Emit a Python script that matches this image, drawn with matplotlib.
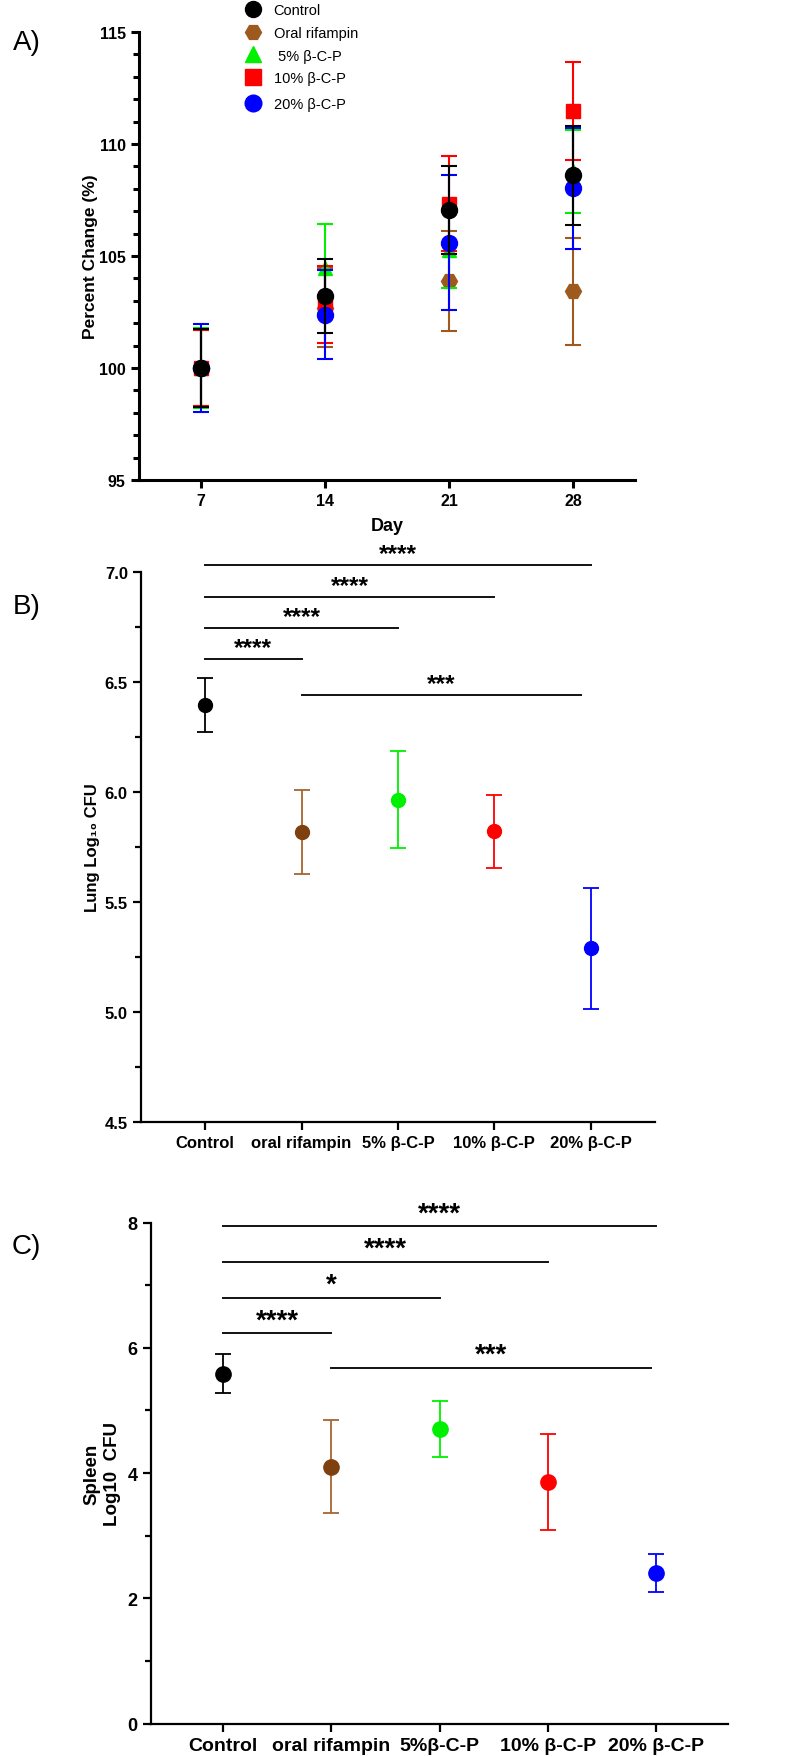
import numpy as np
import matplotlib
matplotlib.use("Agg")
import matplotlib.pyplot as plt
from matplotlib.lines import Line2D
from matplotlib.ticker import MultipleLocator, FormatStrFormatter

plt.rcParams['font.family'] = ['Liberation Sans', 'DejaVu Sans']

# ---- panel A: weight change over time ----
days = [7, 14, 21, 28]
a_labels = ['Control', 'Oral rifampin', ' 5% β-C-P', '10% β-C-P', '20% β-C-P']
control_mean = [100.0, 103.2, 107.05, 108.6]
control_sd = [1.75, 1.65, 1.95, 2.2]
rif_mean = [100.0, 102.7, 103.87, 103.42]
rif_sd = [1.7, 1.75, 2.23, 2.38]
p5_mean = [100.0, 104.45, 105.28, 108.78]
p5_sd = [1.8, 2.0, 1.7, 1.86]
p10_mean = [100.0, 102.85, 107.33, 111.46]
p10_sd = [1.7, 1.72, 2.12, 2.19]
p20_mean = [100.0, 102.38, 105.6, 108.02]
p20_sd = [1.95, 1.98, 3.0, 2.69]

# ---- panel B: lung CFU ----
b_groups = ['Control', 'oral rifampin', '5% β-C-P', '10% β-C-P', '20% β-C-P']
lung_mean = [6.3975, 5.8185, 5.965, 5.821, 5.29]
lung_sd = [0.1225, 0.1925, 0.221, 0.165, 0.275]
lung_sig = [(0, 4, 7.03, '****'), (0, 3, 6.888, '****'), (0, 2, 6.747, '****'),
            (0, 1, 6.606, '****'), (1, 3.9, 6.439, '***')]

# ---- panel C: spleen CFU ----
c_groups = ['Control', 'oral rifampin', '5%β-C-P', '10% β-C-P', '20% β-C-P']
spleen_mean = [5.5875, 4.105, 4.70, 3.86, 2.405]
spleen_sd = [0.3075, 0.75, 0.446, 0.7645, 0.30]
spleen_sig = [(0, 4, 7.94, '****'), (0, 3, 7.37, '****'), (0, 2, 6.80, '*'),
              (0, 1, 6.23, '****'), (1, 3.95, 5.68, '***')]

brown = '#9E5A1E'
brown_dark = '#7E400E'
brown_err = '#A8652F'
green = '#00F000'
group_colors = ['black', brown_dark, green, 'red', 'blue']
err_colors = ['black', brown_err, green, 'red', 'blue']

fig = plt.figure(figsize=(7.9, 17.58), dpi=100)


def style_axes(ax, lw):
    for s in ['top', 'right']:
        ax.spines[s].set_visible(False)
    for s in ['left', 'bottom']:
        ax.spines[s].set_linewidth(lw)
    ax.tick_params(which='major', length=6, width=lw, direction='out')
    ax.tick_params(which='minor', length=4, width=lw, direction='out')


# ---------------- A ----------------
axA = fig.add_axes([139/790, 1-481/1758, 496/790, 448/1758])
series = [
    (rif_mean, rif_sd, brown, 'H', 11.5),
    (p5_mean, p5_sd, green, '^', 10.5),
    (p10_mean, p10_sd, 'red', 's', 10.5),
    (p20_mean, p20_sd, 'blue', 'o', 11.5),
    (control_mean, control_sd, 'black', 'o', 11.5),
]
for i, (m, sd, c, mk, ms) in enumerate(series):
    axA.errorbar(days, m, yerr=sd, fmt=mk, color=c, ecolor=c, ms=ms,
                 elinewidth=1.5, capsize=6, capthick=1.5, zorder=3+i)
axA.set_xlim(3.5, 31.5)
axA.set_ylim(95, 115)
axA.set_xticks(days)
axA.yaxis.set_major_locator(MultipleLocator(5))
axA.yaxis.set_minor_locator(MultipleLocator(1))
style_axes(axA, 2.2)
axA.tick_params(axis='x', which='minor', bottom=False)
for t in axA.get_xticklabels() + axA.get_yticklabels():
    t.set_fontweight('bold')
    t.set_fontsize(11.5)
axA.set_xlabel('Day', fontsize=13, fontweight='bold', labelpad=6)
fig.text(90/790, 1-257/1758, 'Percent Change (%)', rotation=90, ha='center',
         va='center', fontsize=12.5, fontweight='bold')

handles = [
    Line2D([], [], ls='none', marker='o', color='black', ms=11.5),
    Line2D([], [], ls='none', marker='H', color=brown, ms=11.5),
    Line2D([], [], ls='none', marker='^', color=green, ms=11.5),
    Line2D([], [], ls='none', marker='s', color='red', ms=11),
    Line2D([], [], ls='none', marker='o', color='blue', ms=12),
]
leg_kw = dict(loc='upper left', frameon=False, fontsize=10.5, handlelength=1.0,
              handletextpad=0.9, labelspacing=0.6, borderpad=0.0, borderaxespad=0.0)
fig.legend(handles[:4], a_labels[:4], bbox_to_anchor=(246/790, 1-4/1758), **leg_kw)
fig.legend(handles[4:], a_labels[4:], bbox_to_anchor=(246/790, 1-98/1758), **leg_kw)
fig.text(13/790, 1-43/1758, 'A)', fontsize=20, ha='left', va='center')


def cfu_panel(ax, groups, mean, sd, sig, ms, star_fs, lbl_fs, lw):
    x = np.arange(len(groups))
    for i in range(len(groups)):
        ax.errorbar(x[i], mean[i], yerr=sd[i], fmt='o', color=group_colors[i],
                    ecolor=err_colors[i], ms=ms, elinewidth=1.3, capsize=5.5,
                    capthick=1.3, zorder=3)
    for x0, x1, y, lab in sig:
        ax.plot([x0, x1], [y, y], color='#111111', lw=1.4, clip_on=False)
        ax.annotate(lab, xy=((x0 + x1) / 2, y), xytext=(0, 0),
                    textcoords='offset points', ha='center', va='bottom',
                    fontsize=star_fs, fontweight='bold', annotation_clip=False)
    ax.set_xticks(x)
    ax.set_xticklabels(groups, fontsize=lbl_fs, fontweight='bold')
    ax.set_xlim(-0.665, 4.665)
    style_axes(ax, lw)
    ax.tick_params(axis='x', which='minor', bottom=False)


# ---------------- B ----------------
axB = fig.add_axes([141/790, 1-1123/1758, 514/790, 550/1758])
cfu_panel(axB, b_groups, lung_mean, lung_sd, lung_sig, 10, 17.5, 12, 1.6)
axB.set_ylim(4.5, 7.0)
axB.yaxis.set_major_locator(MultipleLocator(0.5))
axB.yaxis.set_minor_locator(MultipleLocator(0.25))
axB.yaxis.set_major_formatter(FormatStrFormatter('%.1f'))
for t in axB.get_yticklabels():
    t.set_fontweight('bold')
    t.set_fontsize(12)
fig.text(92/790, 1-848/1758, 'Lung Log₁₀ CFU', rotation=90, ha='center',
         va='center', fontsize=12, fontweight='bold')
fig.text(13/790, 1-607/1758, 'B)', fontsize=20, ha='left', va='center')

# ---------------- C ----------------
axC = fig.add_axes([151/790, 1-1724.6/1758, 577/790, 501/1758])
cfu_panel(axC, c_groups, spleen_mean, spleen_sd, spleen_sig, 11, 20, 14, 1.6)
axC.set_ylim(0, 8)
axC.yaxis.set_major_locator(MultipleLocator(2))
axC.yaxis.set_minor_locator(MultipleLocator(1))
for t in axC.get_yticklabels():
    t.set_fontweight('bold')
    t.set_fontsize(13)
fig.text(102/790, 1-1474/1758, 'Spleen\nLog10  CFU', rotation=90, ha='center',
         va='center', fontsize=13.5, fontweight='bold', linespacing=1.3)
fig.text(12/790, 1-1247/1758, 'C)', fontsize=20, ha='left', va='center')

fig.savefig('out.png', dpi=100)
